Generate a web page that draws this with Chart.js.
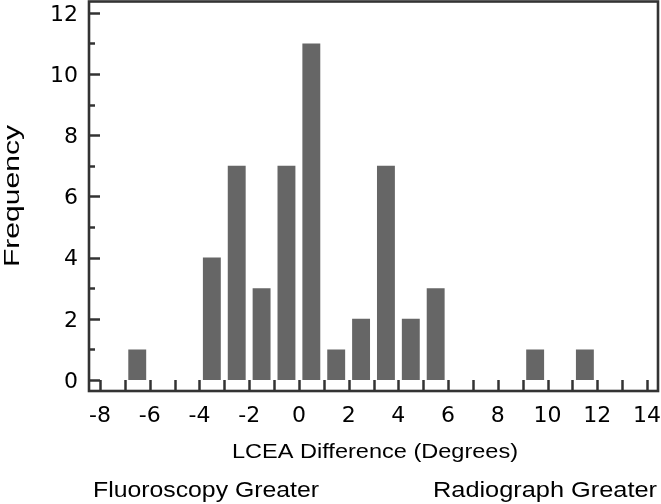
<!DOCTYPE html>
<html>
<head>
<meta charset="utf-8">
<style>
html,body{margin:0;padding:0;background:#ffffff;}
#wrap{width:661px;height:504px;position:relative;}
</style>
<script src="https://cdn.jsdelivr.net/npm/chart.js@4/dist/chart.umd.min.js"></script>
</head>
<body>
<div id="wrap"><canvas id="c" width="661" height="504"></canvas></div>
<script>
// ---- data ----
const binCenters   = [-6.5, -3.5, -2.5, -1.5, -0.5, 0.5, 1.5, 2.5, 3.5, 4.5, 5.5, 9.5, 11.5];
const frequencies  = [1, 4, 7, 3, 7, 11, 1, 2, 7, 2, 3, 1, 1];
const xTickValues  = [-8, -6, -4, -2, 0, 2, 4, 6, 8, 10, 12, 14];
const xMinorValues = [-8, -7, -6, -5, -4, -3, -2, -1, 0, 1, 2, 3, 4, 5, 6, 7, 8, 9, 10, 11, 12, 13, 14];
const yTickValues  = [0, 2, 4, 6, 8, 10, 12];
const yMinorValues = [1, 3, 5, 7, 9, 11];
const xAxisTitle = 'LCEA Difference (Degrees)';
const yAxisTitle = 'Frequency';
const leftNote   = 'Fluoroscopy Greater';
const rightNote  = 'Radiograph Greater';

const FONT = '"Liberation Sans", Arial, Helvetica, sans-serif';
const TICK_FONT = '"DejaVu Sans", "Liberation Sans", Arial, sans-serif';
const AXIS_COLOR = '#333333';
const TEXT_COLOR = '#000000';

function drawStretched(ctx, text, size, x, y, targetWidth, align, rotate) {
  ctx.save();
  ctx.font = size + 'px ' + FONT;
  ctx.fillStyle = TEXT_COLOR;
  ctx.textBaseline = 'alphabetic';
  ctx.textAlign = align;
  const w = ctx.measureText(text).width;
  const sx = targetWidth / w;
  ctx.translate(x, y);
  if (rotate) ctx.rotate(-Math.PI / 2);
  ctx.scale(sx, 1);
  ctx.fillText(text, 0, 0);
  ctx.restore();
}

const framePlugin = {
  id: 'frameAndTicks',
  afterDatasetsDraw(chart) {
    const ctx = chart.ctx;
    const a = chart.chartArea;
    const xs = chart.scales.x, ys = chart.scales.y;
    ctx.save();
    ctx.strokeStyle = AXIS_COLOR;
    ctx.lineWidth = 2.5;
    ctx.lineCap = 'butt';
    xMinorValues.forEach(v => {
      const px = Math.round(xs.getPixelForValue(v)) + 0.5;
      ctx.beginPath(); ctx.moveTo(px, a.bottom); ctx.lineTo(px, a.bottom - 11); ctx.stroke();
    });
    yTickValues.forEach(v => {
      const py = Math.round(ys.getPixelForValue(v)) + 0.5;
      ctx.beginPath(); ctx.moveTo(a.left, py); ctx.lineTo(a.left + 11, py); ctx.stroke();
    });
    yMinorValues.forEach(v => {
      const py = Math.round(ys.getPixelForValue(v)) + 0.5;
      ctx.beginPath(); ctx.moveTo(a.left, py); ctx.lineTo(a.left + 6, py); ctx.stroke();
    });
    ctx.lineWidth = 2.6;
    ctx.strokeRect(a.left, a.top, a.right - a.left, a.bottom - a.top);
    ctx.restore();
  },
  afterDraw(chart) {
    const ctx = chart.ctx;
    const a = chart.chartArea;
    drawStretched(ctx, xAxisTitle, 20, (a.left + a.right) / 2 + 1.5, 457.5, 286, 'center', false);
    drawStretched(ctx, yAxisTitle, 22, 19, 196, 142, 'center', true);
    drawStretched(ctx, leftNote, 22, 93, 497, 226, 'left', false);
    drawStretched(ctx, rightNote, 22, 433, 497, 224, 'left', false);
  }
};

new Chart(document.getElementById('c'), {
  type: 'bar',
  data: {
    datasets: [{
      data: binCenters.map((x, i) => ({ x: x, y: frequencies[i] })),
      backgroundColor: '#666666',
      borderWidth: 0,
      categoryPercentage: 1.0,
      barPercentage: 0.72
    }]
  },
  options: {
    responsive: false,
    animation: false,
    devicePixelRatio: 1,
    layout: { padding: { left: 0, right: 3, top: 1.5, bottom: 0 } },
    plugins: { legend: { display: false }, tooltip: { enabled: false }, title: { display: false } },
    scales: {
      x: {
        type: 'linear',
        offset: false,
        min: -8.44,
        max: 14.44,
        afterBuildTicks: s => { s.ticks = xTickValues.map(v => ({ value: v })); },
        afterFit: s => { s.height = 113; s.paddingLeft = 0; s.paddingRight = 0; },
        grid: { display: false, drawTicks: false, offset: false },
        border: { display: false },
        ticks: {
          autoSkip: false, maxRotation: 0, minRotation: 0, padding: 12,
          color: '#000000',
          font: { family: TICK_FONT, size: 22 },
          callback: v => String(v)
        }
      },
      y: {
        type: 'linear',
        min: -0.36,
        max: 12.37,
        afterBuildTicks: s => { s.ticks = yTickValues.map(v => ({ value: v })); },
        afterFit: s => { s.width = 89; s.paddingTop = 0; s.paddingBottom = 0; },
        grid: { display: false, drawTicks: false },
        border: { display: false },
        ticks: {
          padding: 11,
          labelOffset: 2,
          color: '#000000',
          font: { family: TICK_FONT, size: 22 },
          callback: v => String(v)
        }
      }
    }
  },
  plugins: [framePlugin]
});
</script>
</body>
</html>
